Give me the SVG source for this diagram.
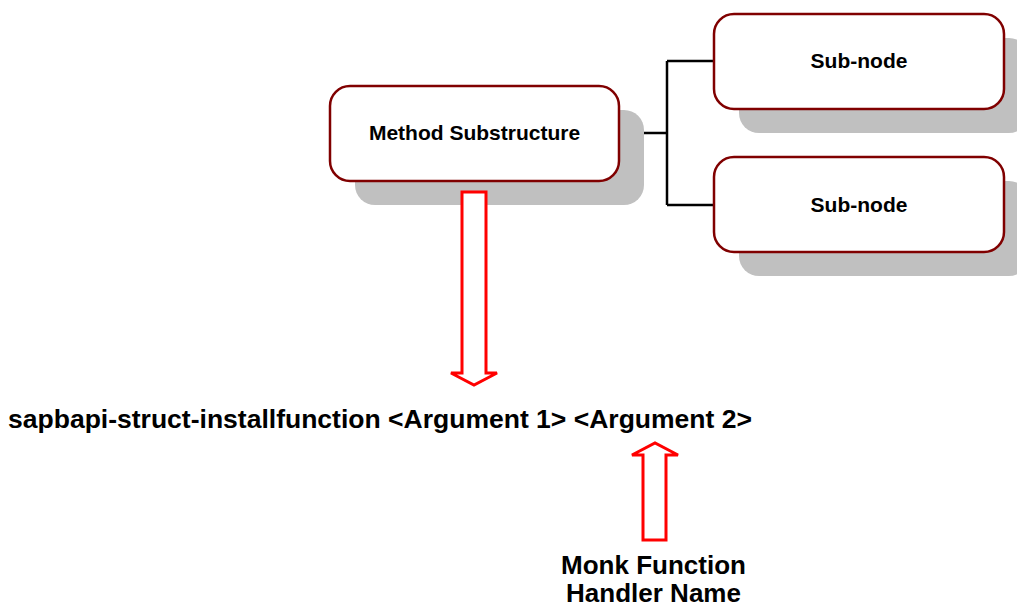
<svg xmlns="http://www.w3.org/2000/svg" width="1017" height="608" viewBox="0 0 1017 608">
<style>
.sh{fill:#c0c0c0}
.box{fill:#fff;stroke:#800000;stroke-width:2.5}
.lbl{font-family:"Liberation Sans",Arial,sans-serif;font-weight:bold;font-size:21px;fill:#000;text-anchor:middle}
.big{font-family:"Liberation Sans",Arial,sans-serif;font-weight:bold;font-size:25.5px;fill:#000}
.hn{font-family:"Liberation Sans",Arial,sans-serif;font-weight:bold;font-size:26px;fill:#000;text-anchor:middle}
.conn{fill:none;stroke:#000;stroke-width:2.5}
.arr{fill:#fff;stroke:#f00;stroke-width:3;stroke-linejoin:miter}
</style>
<rect width="1017" height="608" fill="#fff"/>
<g id="connectors">
<path class="conn" d="M619 133 H667 M667 61 V205 M667 61 H714 M667 205 H714"/>
</g>
<g id="method">
<rect class="sh" x="355" y="110" width="289" height="95" rx="20"/>
<rect class="box" x="330" y="86" width="289" height="95" rx="20"/>
<text class="lbl" x="474.5" y="139.5">Method Substructure</text>
</g>
<g id="sub1">
<rect class="sh" x="739" y="38" width="290" height="95" rx="20"/>
<rect class="box" x="714" y="14" width="290" height="95" rx="20"/>
<text class="lbl" x="859" y="67.5">Sub-node</text>
</g>
<g id="sub2">
<rect class="sh" x="739" y="181" width="290" height="95" rx="20"/>
<rect class="box" x="714" y="157" width="290" height="95" rx="20"/>
<text class="lbl" x="859" y="211.5">Sub-node</text>
</g>
<g id="arrow-down">
<path class="arr" d="M462 192 H486 V373 H497 L474 385 L451 373 H462 Z"/>
</g>
<g id="arrow-up">
<path class="arr" d="M643 540 H666 V455 H678 L655 443 L632 455 H643 Z"/>
</g>
<g id="command">
<text class="big" x="8" y="428" textLength="744" lengthAdjust="spacingAndGlyphs">sapbapi-struct-installfunction &lt;Argument 1&gt; &lt;Argument 2&gt;</text>
</g>
<g id="handler">
<text class="hn" x="653.5" y="574">Monk Function</text>
<text class="hn" x="653.5" y="602">Handler Name</text>
</g>
</svg>
